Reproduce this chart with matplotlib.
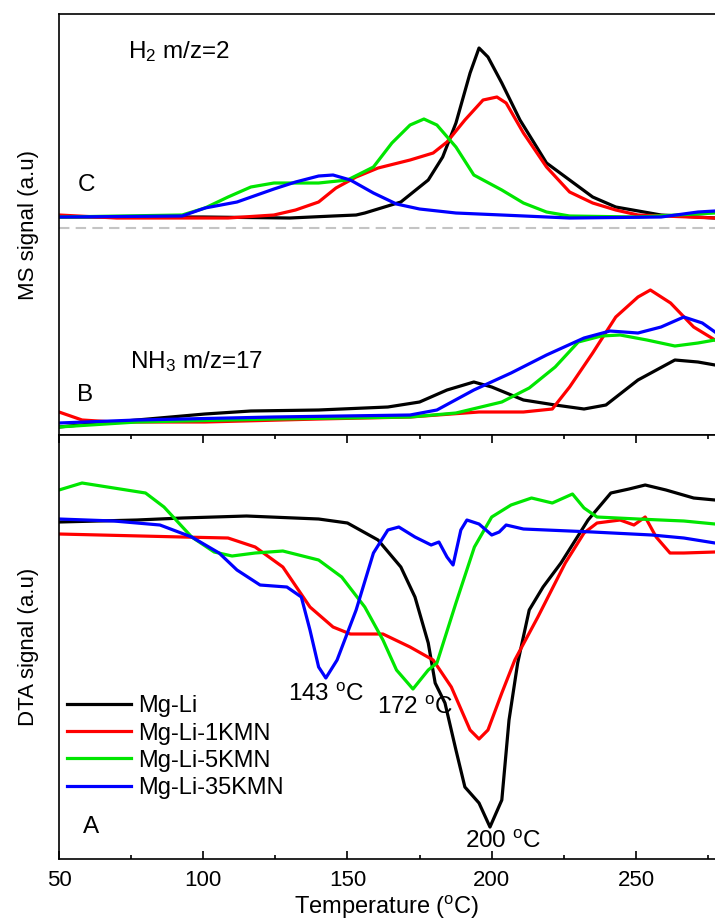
import matplotlib
matplotlib.use('Agg')
import matplotlib.pyplot as plt
from matplotlib.ticker import MultipleLocator

plt.rcParams['font.family'] = ['Liberation Sans', 'DejaVu Sans']
plt.rcParams['mathtext.default'] = 'regular'

samples = ['Mg-Li', 'Mg-Li-1KMN', 'Mg-Li-5KMN', 'Mg-Li-35KMN']
colors = ['#000000', '#ff0000', '#00e600', '#0000ff']

# ---- C: H2 m/z=2 (MS signal, a.u.) ----
h2_t_mgli = [50, 100, 130, 145, 153, 156, 168.5, 178, 183, 187.6, 192.5, 195.6, 198.7, 203.5, 209.8, 219, 227, 235, 243, 258.7, 277.4]
h2_mgli = [218, 218, 217, 219, 220, 222, 233, 255, 278, 312, 362, 387, 378, 352, 315, 272, 255, 238, 228, 220, 217]
h2_t_1kmn = [50, 70, 108.6, 124.5, 132, 140, 146, 153, 160.6, 171.7, 179.7, 184.5, 190.7, 197, 201.8, 205, 211, 219, 227, 235, 243, 250.7, 277.4]
h2_1kmn = [220, 217, 217, 220, 225, 233, 247, 258, 267, 275, 282, 293, 315, 335, 338, 332, 302, 268, 243, 232, 225, 220, 217]
h2_t_5kmn = [50, 92.7, 100.6, 108.6, 116.5, 124.5, 140, 150, 159, 165.4, 171.7, 176.5, 181, 187.6, 193.8, 203.5, 211, 219, 227, 250.7, 277.4]
h2_5kmn = [218, 220, 227, 238, 248, 252, 252, 255, 268, 292, 310, 316, 310, 288, 260, 245, 232, 223, 219, 218, 222]
h2_t_35kmn = [50, 92.7, 100.6, 111.7, 124.5, 132, 140, 145, 151, 159, 167, 175, 187.6, 203.5, 227, 258.7, 271.5, 277.4]
h2_35kmn = [218, 219, 227, 233, 246, 253, 259, 260, 255, 242, 231, 226, 222, 220, 217, 218, 223, 224]

# ---- B: NH3 m/z=17 (MS signal, a.u.) ----
nh3_t_mgli = [50, 61, 77, 100.6, 116.5, 140, 164, 175, 184.5, 193.8, 200, 211, 222, 232, 239.6, 250.7, 263.5, 271.5, 277.4]
nh3_mgli = [8, 11, 15, 21, 24, 25, 28, 33, 45, 53, 48, 35, 30, 26, 30, 55, 75, 73, 70]
nh3_t_1kmn = [50, 58, 69, 100.6, 140, 171.7, 195.6, 211, 221, 227, 235, 243, 250.7, 255, 262, 270, 277.4]
nh3_1kmn = [23, 15, 13, 13, 16, 18, 23, 23, 26, 48, 82, 118, 138, 145, 132, 108, 95]
nh3_t_5kmn = [50, 77, 124.5, 171.7, 187.6, 203.5, 213, 222, 230, 238, 244.5, 253.8, 263.5, 271.5, 277.4]
nh3_5kmn = [8, 13, 16, 18, 22, 33, 47, 68, 93, 99, 100, 95, 89, 92, 95]
nh3_t_35kmn = [50, 77, 124.5, 171.7, 181, 193.8, 206.7, 219, 232, 241, 250.7, 258.7, 266.6, 273, 277.4]
nh3_35kmn = [12, 15, 18, 20, 25, 45, 62, 80, 97, 104, 102, 108, 118, 112, 103]

# ---- A: DTA signal (a.u.) ----
dta_t_mgli = [50, 77, 92.7, 115, 140, 150, 160.6, 168.5, 173.4, 178, 180.4, 183.8, 187.6, 190.7, 195.6, 199.4, 203.5, 206, 209, 213, 217.8, 224, 233.4, 241.3, 247.6, 253.2, 260.4, 270, 277.4]
dta_mgli = [337, 339, 341, 343, 340, 336, 319, 292, 262, 216, 176, 156, 109, 72, 56, 32, 59, 139, 196, 249, 272, 296, 339, 366, 370, 374, 369, 361, 359]
dta_t_1kmn = [50, 92.7, 108.6, 118, 127.6, 137, 145, 151, 162.3, 171.7, 179.7, 186, 192.5, 195.6, 198.7, 203.5, 208, 216, 225.5, 232, 236.5, 244.5, 249.3, 253.2, 257, 261.8, 266.6, 277.4]
dta_1kmn = [325, 322, 321, 312, 292, 252, 232, 225, 225, 212, 199, 172, 129, 120, 129, 166, 199, 242, 296, 326, 336, 339, 334, 342, 322, 306, 306, 307]
dta_t_5kmn = [50, 58, 69, 80, 86.4, 96, 103.8, 110, 118, 127.6, 140, 148, 156, 162.3, 167, 172.7, 178, 181, 187.6, 194, 200, 206.7, 213.8, 221, 228, 232, 236.5, 250.7, 266.6, 277.4]
dta_5kmn = [369, 376, 371, 366, 352, 322, 307, 303, 306, 308, 299, 282, 252, 219, 189, 170, 189, 196, 256, 312, 342, 354, 361, 356, 365, 351, 342, 340, 338, 335]
dta_t_35kmn = [50, 69, 85, 96, 105.5, 111.7, 119.7, 129, 134, 137, 140, 142.5, 146.4, 153, 159, 164, 167.8, 173.4, 179, 181.7, 184.5, 186.6, 189.3, 191.4, 195.6, 200, 202.6, 205, 211, 235, 255.5, 266.6, 277.4]
dta_35kmn = [340, 338, 334, 322, 306, 289, 274, 272, 262, 229, 192, 181, 199, 249, 306, 329, 332, 322, 314, 317, 302, 294, 329, 339, 335, 324, 327, 334, 330, 327, 324, 321, 316]

peak_labels = ['143 $^{o}$C', '172 $^{o}$C', '200 $^{o}$C']

h2_sets = [(h2_t_mgli, h2_mgli), (h2_t_1kmn, h2_1kmn), (h2_t_5kmn, h2_5kmn), (h2_t_35kmn, h2_35kmn)]
nh3_sets = [(nh3_t_mgli, nh3_mgli), (nh3_t_1kmn, nh3_1kmn), (nh3_t_5kmn, nh3_5kmn), (nh3_t_35kmn, nh3_35kmn)]
dta_sets = [(dta_t_mgli, dta_mgli), (dta_t_1kmn, dta_1kmn), (dta_t_5kmn, dta_5kmn), (dta_t_35kmn, dta_35kmn)]

fig = plt.figure(figsize=(7.15, 9.22), dpi=100)
ax_ms = fig.add_axes([0.0825, 0.5282, 0.9175, 0.4566])
ax_dta = fig.add_axes([0.0825, 0.0683, 0.9175, 0.4599])

xmax = 277.4
lw = 2.3
fs = 17.5

# MS panel (C on top, B below)
for (t, v), c in zip(h2_sets, colors):
    ax_ms.plot(t, v, color=c, lw=lw)
for (t, v), c in zip(nh3_sets, colors):
    ax_ms.plot(t, v, color=c, lw=lw)
ax_ms.axhline(207, color='#c4c4c4', lw=1.5, ls=(0, (5, 3)))
ax_ms.set_xlim(50, xmax)
ax_ms.set_ylim(0, 421)
ax_ms.set_xticks([])
ax_ms.set_yticks([])
ax_ms.spines['right'].set_visible(False)
ax_ms.set_ylabel('MS signal (a.u)', fontsize=16)
ax_ms.yaxis.set_label_coords(-0.03, 0.5)
ax_ms.text(59.7, 250, 'C', fontsize=fs, ha='center', va='center')
ax_ms.text(74, 377, 'H$_{2}$ m/z=2', fontsize=fs, ha='left', va='baseline')
ax_ms.text(59, 40, 'B', fontsize=fs, ha='center', va='center')
ax_ms.text(74.6, 67, 'NH$_{3}$ m/z=17', fontsize=fs, ha='left', va='baseline')

# DTA panel (A)
for (t, v), c, name in zip(dta_sets, colors, samples):
    ax_dta.plot(t, v, color=c, lw=lw, label=name)
ax_dta.set_xlim(50, xmax)
ax_dta.set_ylim(0, 424)
ax_dta.set_yticks([])
ax_dta.xaxis.set_major_locator(MultipleLocator(50))
ax_dta.xaxis.set_minor_locator(MultipleLocator(25))
ax_dta.tick_params(axis='x', which='both', direction='in', top=True, width=1.2, labelsize=16, pad=8)
ax_dta.tick_params(axis='x', which='major', length=6)
ax_dta.tick_params(axis='x', which='minor', length=3)
ax_dta.spines['right'].set_visible(False)
ax_dta.set_xlabel('Temperature ($^{o}$C)', fontsize=17, labelpad=2)
ax_dta.set_ylabel('DTA signal (a.u)', fontsize=16)
ax_dta.yaxis.set_label_coords(-0.03, 0.5)
ax_dta.text(61, 32, 'A', fontsize=fs, ha='center', va='center')
ax_dta.text(142.5, 164, peak_labels[0], fontsize=fs, ha='center', va='center')
ax_dta.text(173.4, 151, peak_labels[1], fontsize=fs, ha='center', va='center')
ax_dta.text(203.9, 17, peak_labels[2], fontsize=fs, ha='center', va='center')
ax_dta.legend(loc='upper left', bbox_to_anchor=(0.012, 0.386), frameon=False, fontsize=17,
              handlelength=2.7, handletextpad=0.3, labelspacing=0.22, borderpad=0, borderaxespad=0)

for ax in (ax_ms, ax_dta):
    for s in ax.spines.values():
        s.set_linewidth(1.2)

fig.savefig('out.png', dpi=100)
